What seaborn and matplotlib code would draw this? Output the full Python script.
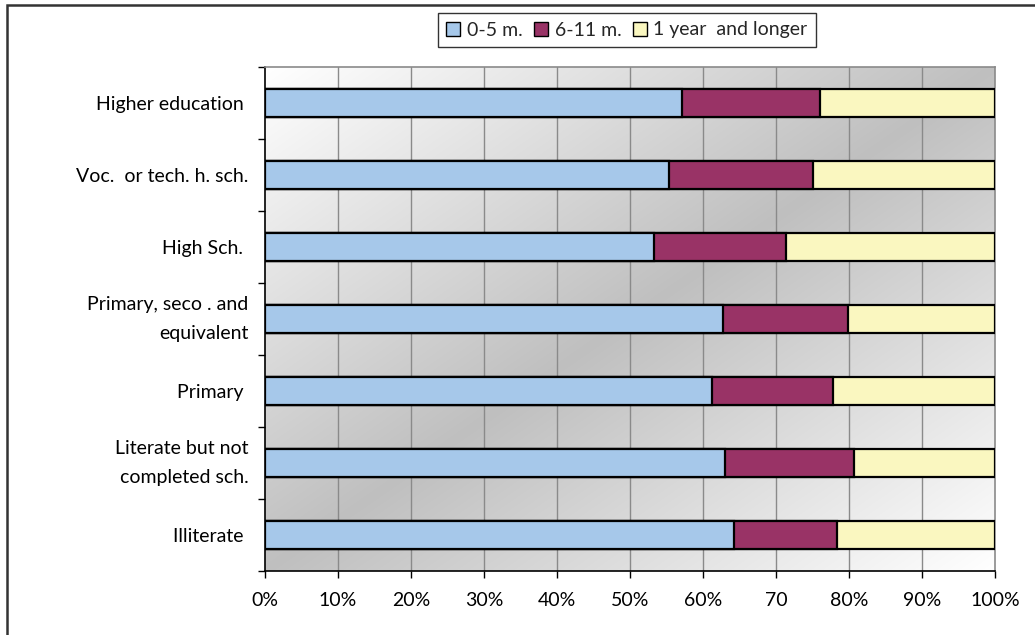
import numpy as np
import pandas as pd
import matplotlib
matplotlib.use("Agg")
import matplotlib.pyplot as plt
from matplotlib.patches import Rectangle, Patch
import seaborn as sns

# Education levels (top to bottom) and share of job-search duration, %
categories = [
    "Higher education ",
    "Voc.  or tech. h. sch.",
    "High Sch. ",
    "Primary, seco . and\nequivalent",
    "Primary ",
    "Literate but not\ncompleted sch.",
    "Illiterate ",
]
months_0_5 = [57.1, 55.4, 53.3, 62.8, 61.2, 63.0, 64.3]
months_6_11 = [18.9, 19.7, 18.1, 17.0, 16.6, 17.7, 14.1]
year_plus = [round(100 - a - b, 1) for a, b in zip(months_0_5, months_6_11)]

series_names = ["0-5 m.", "6-11 m.", "1 year  and longer"]
series_colors = ["#A6C8EA", "#993366", "#FAF7C0"]
tick_values = list(range(0, 101, 10))
tick_labels = ["0%", "10%", "20%", "30%", "40%", "50%", "60%", "70", "80%", "90%", "100%"]

sns.set_theme(style="white")
plt.rcParams["font.family"] = ["Lato", "DejaVu Sans"]
FS = 14

df = pd.DataFrame({
    "category": categories,
    "c1": months_0_5,
    "c2": np.add(months_0_5, months_6_11),
    "c3": np.add(np.add(months_0_5, months_6_11), year_plus),
})

fig = plt.figure(figsize=(10.35, 6.35), dpi=100)
ax = fig.add_axes([265 / 1035, 1 - 571 / 635, 730 / 1035, 504 / 635])

# diagonal gradient backdrop: light corners top-left / bottom-right, grey across the middle
n = 300
xx, yy = np.meshgrid(np.linspace(0, 1, n), np.linspace(0, 1, n))
f = np.abs(xx + yy - 1)
grey, white = 0.75, 1.0
shade = grey + (white - grey) * f
img = np.dstack([shade, shade, shade])
ax.imshow(img, extent=(0, 100, len(categories) - 0.5, -0.5), aspect="auto",
          zorder=0, interpolation="bilinear")

# vertical gridlines
for v in tick_values[1:-1]:
    ax.axvline(v, color="#8a8a8a", lw=1.0, zorder=1)

# stacked bars drawn back to front from cumulative totals
for col, color in zip(["c3", "c2", "c1"], series_colors[::-1]):
    sns.barplot(data=df, x=col, y="category", orient="h", color=color,
                width=0.4, edgecolor="black", linewidth=1.6, ax=ax,
                saturation=1, zorder=3)

ax.set_xlim(0, 100)
ax.set_ylim(len(categories) - 0.5, -0.5)
ax.set_xlabel("")
ax.set_ylabel("")

ax.set_xticks(tick_values)
ax.set_xticklabels(tick_labels, fontsize=FS)
ax.set_yticks(range(len(categories)))
ax.set_yticklabels(categories, fontsize=FS, linespacing=1.9)
for lbl in ax.get_yticklabels():
    if "\n" in lbl.get_text():
        lbl.set_verticalalignment("center")
ax.set_yticks(np.arange(-0.5, len(categories) + 0.5, 1), minor=True)

ax.tick_params(axis="y", which="major", length=0, pad=12, colors="black")
ax.tick_params(axis="y", which="minor", length=5, width=1, color="black", direction="out", left=True)
ax.tick_params(axis="x", which="major", length=5, width=1, color="black", direction="out",
               bottom=True, pad=10, labelcolor="black")

for side in ["left", "bottom"]:
    ax.spines[side].set_color("black")
    ax.spines[side].set_linewidth(1.2)
for side in ["top", "right"]:
    ax.spines[side].set_color("#8a8a8a")
    ax.spines[side].set_linewidth(1.2)
    ax.spines[side].set_visible(True)

handles = [Patch(facecolor=c, edgecolor="black", linewidth=1.0) for c in series_colors]
leg = fig.legend(handles, series_names, loc="center", bbox_to_anchor=(627 / 1035, 1 - 30 / 635),
                 ncol=3, frameon=True, fancybox=False, fontsize=FS,
                 handlelength=0.7, handleheight=0.7, handletextpad=0.35,
                 columnspacing=0.6, borderpad=0.45, edgecolor="black")
leg.get_frame().set_linewidth(1.0)

# outer chart frame
fig.patches.append(Rectangle((7 / 1035, -0.2), 1.2, 1 - 5 / 635 + 0.2,
                             transform=fig.transFigure, fill=False,
                             edgecolor="#333333", linewidth=1.8, zorder=10))

fig.savefig("out.png", dpi=100)
